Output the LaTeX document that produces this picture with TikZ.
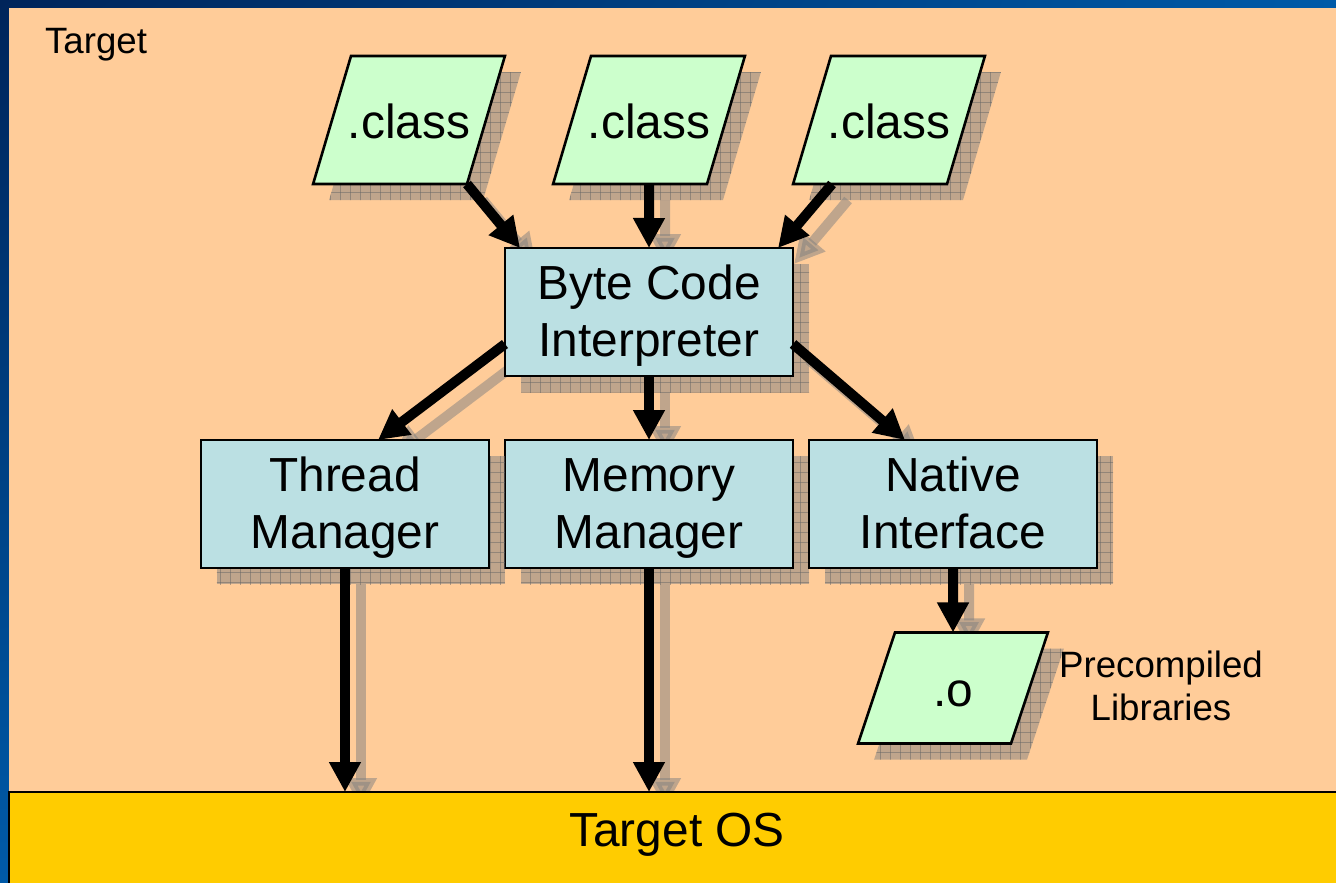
\documentclass[tikz,border=0pt]{standalone}
\usepackage{fontspec}
\setmainfont{Liberation Sans}
\usepackage{xcolor}
\usetikzlibrary{shapes.geometric, arrows.meta, positioning, shadows, shadings, patterns.meta, calc}

\definecolor{peach}{RGB}{255,204,153}
\definecolor{unitfill}{RGB}{187,224,227}
\definecolor{filefill}{RGB}{204,255,204}
\definecolor{osfill}{RGB}{255,204,0}
\definecolor{navy}{RGB}{0,36,90}
\definecolor{slideblue}{RGB}{0,90,168}

\pgfdeclarelayer{back}
\pgfdeclarelayer{mid}
\pgfsetlayers{back,mid,main}

\begin{document}
\begin{tikzpicture}[
    x=0.5bp, y=-0.5bp,
    every node/.style={font=\fontsize{24}{28.5}\selectfont, outer sep=0pt},
    boxshadow/.style={drop shadow={shadow xshift=8bp, shadow yshift=-8bp, opacity=0.5, fill=black!50,
        postaction={pattern={Lines[angle=0, distance=5bp, line width=0.4bp]}, pattern color=black!60},
        postaction={pattern={Lines[angle=90, distance=5bp, line width=0.4bp]}, pattern color=black!60}}},
    unit/.style={draw, line width=1.3bp, fill=unitfill, minimum width=144bp, minimum height=64bp, align=center,
        inner sep=0pt, text height=49bp, text depth=5bp, boxshadow},
    file/.style={trapezium, trapezium left angle=73.5, trapezium right angle=106.5,
        draw, line width=1.3bp, fill=filefill, text width=62bp, align=center, inner xsep=-2bp, inner ysep=23bp,
        text height=18bp, text depth=0pt, boxshadow},
    flow/.style={line width=5bp, -{Triangle[length=15bp, width=15bp]}},
    flowshadow/.style={flow, draw=black!50, opacity=0.5, transform canvas={xshift=8bp, yshift=-8bp}},
    note/.style={font=\fontsize{18.4}{21.5}\selectfont, align=center}
]
\useasboundingbox (0,0) rectangle (1336,882);

\begin{pgfonlayer}{back}
    \shade[upper left=navy, upper right=slideblue, lower left=slideblue, lower right=slideblue] (0,0) rectangle (1336,882);
    \fill[peach] (9,8) rectangle (1336,882);
\end{pgfonlayer}

% OS bar along the bottom
\draw[fill=osfill, line width=1.2bp] (9,792) rectangle (1345,895);
\node (os) at (677,835) {Target OS};
\coordinate (floor) at (0,792);

\node[note] (tgt) at (96,45) {Target};

% input files
\node[file] (c1) at (409,120) {.class};
\node[file] (c2) at (649,120) {.class};
\node[file] (c3) at (889,120) {.class};

% virtual machine parts
\node[unit] (mem) at (649,504) {Memory\\Manager};
\node[unit, left=8bp of mem] (thread) {Thread\\Manager};
\node[unit, right=8bp of mem] (native) {Native\\Interface};
\node[unit, above=32bp of mem] (bci) {Byte Code\\Interpreter};

\node[file, trapezium left angle=71.6, trapezium right angle=108.4, inner ysep=18.75bp] (olib) at (953,688) {.o};
\node[note] (pre) at (1161,686) {Precompiled\\Libraries};

\coordinate (out1) at (c1.bottom right corner);
\coordinate (in1) at ($(bci.north west)+(15,0)$);
\coordinate (out3) at ($(c3.bottom left corner)+(39,0)$);
\coordinate (in3) at ($(bci.north east)+(-15,0)$);
\coordinate (outl) at ($(bci.west)+(0,32)$);
\coordinate (inl) at ($(thread.north)+(33,0)$);
\coordinate (outr) at ($(bci.east)+(0,32)$);
\coordinate (inr) at ($(native.north)+(-48,0)$);

\begin{pgfonlayer}{mid}
\foreach \a/\b in {out1/in1, c2.south/bci.north, out3/in3, outl/inl, bci.south/mem.north, outr/inr,
    thread.south/thread.south |- floor, mem.south/mem.south |- floor, native.south/olib.north}
    \draw[flowshadow] (\a) -- (\b);
\end{pgfonlayer}

\foreach \a/\b in {out1/in1, c2.south/bci.north, out3/in3, outl/inl, bci.south/mem.north, outr/inr,
    thread.south/thread.south |- floor, mem.south/mem.south |- floor, native.south/olib.north}
    \draw[flow] (\a) -- (\b);
\end{tikzpicture}
\end{document}
